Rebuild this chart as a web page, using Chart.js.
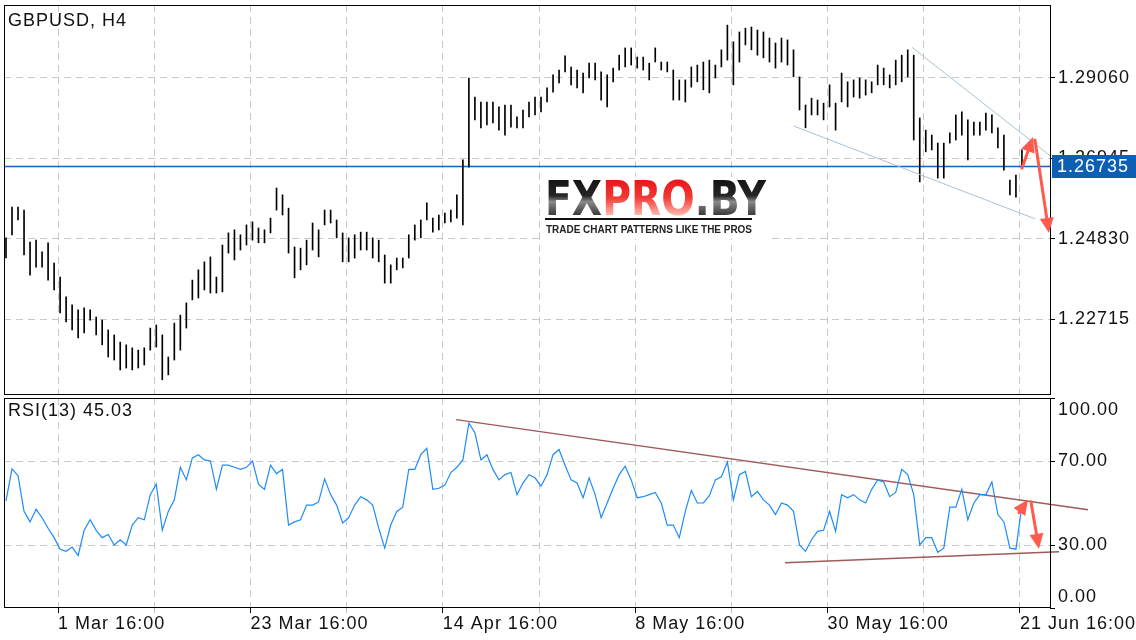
<!DOCTYPE html>
<html>
<head>
<meta charset="utf-8">
<script src="https://cdn.jsdelivr.net/npm/chart.js@4.4.1/dist/chart.umd.min.js"></script>
<style>
  html, body { margin: 0; padding: 0; background: #fff; }
  #wrap { position: relative; width: 1136px; height: 640px; overflow: hidden; }
  #priceBox { position: absolute; left: 0; top: 0; width: 1136px; height: 397px; }
  #rsiBox { position: absolute; left: 0; top: 396px; width: 1136px; height: 244px; }
</style>
</head>
<body>
<div id="wrap">
  <div id="priceBox"><canvas id="priceChart"></canvas></div>
  <div id="rsiBox"><canvas id="rsiChart"></canvas></div>
</div>
<script>
const FONT = "'Liberation Sans', Arial, sans-serif";

// bar index of first sample (0 = "1 Mar 16:00"), one sample every 3 H4 bars
const firstBar = -26;
const barStep = 3;

const highs = [
  1.2486, 1.2567, 1.2567, 1.2559, 1.2475, 1.2480, 1.2449, 1.2473, 1.2420, 1.2383,
  1.2331, 1.2310, 1.2297, 1.2302, 1.2297, 1.2278, 1.2270, 1.2244, 1.2231, 1.2212,
  1.2205, 1.2197, 1.2191, 1.2197, 1.2249, 1.2257, 1.2231, 1.2173, 1.2262, 1.2283,
  1.2315, 1.2375, 1.2402, 1.2423, 1.2436, 1.2383, 1.2467, 1.2499, 1.2507, 1.2494,
  1.2520, 1.2528, 1.2512, 1.2507, 1.2538, 1.2617, 1.2599, 1.2564, 1.2462, 1.2459,
  1.2480, 1.2525, 1.2507, 1.2559, 1.2559, 1.2533, 1.2499, 1.2486, 1.2494, 1.2501,
  1.2501, 1.2486, 1.2480, 1.2441, 1.2415, 1.2433, 1.2433, 1.2494, 1.2520, 1.2533,
  1.2578, 1.2538, 1.2546, 1.2551, 1.2559, 1.2599, 1.2691, 1.2906, 1.2856, 1.2843,
  1.2843, 1.2843, 1.2830, 1.2835, 1.2835, 1.2804, 1.2822, 1.2843, 1.2856, 1.2856,
  1.2880, 1.2914, 1.2927, 1.2964, 1.2935, 1.2927, 1.2919, 1.2945, 1.2945, 1.2922,
  1.2914, 1.2932, 1.2966, 1.2985, 1.2985, 1.2961, 1.2961, 1.2945, 1.2985, 1.2948,
  1.2948, 1.2927, 1.2901, 1.2901, 1.2935, 1.2940, 1.2948, 1.2953, 1.2940, 1.2980,
  1.3045, 1.3001, 1.3027, 1.3037, 1.3040, 1.3032, 1.3027, 1.3011, 1.2998, 1.3011,
  1.3006, 1.2980, 1.2909, 1.2835, 1.2853, 1.2848, 1.2840, 1.2888, 1.2840, 1.2919,
  1.2896, 1.2901, 1.2906, 1.2901, 1.2896, 1.2940, 1.2932, 1.2914, 1.2953, 1.2966,
  1.2980, 1.2966, 1.2801, 1.2769, 1.2756, 1.2735, 1.2735, 1.2762, 1.2809, 1.2817,
  1.2796, 1.2790, 1.2790, 1.2814, 1.2809, 1.2775, 1.2756, 1.2638, 1.2651, 1.2717
];

const lows = [
  1.2433, 1.2494, 1.2533, 1.2441, 1.2388, 1.2409, 1.2409, 1.2375, 1.2349, 1.2289,
  1.2265, 1.2244, 1.2223, 1.2236, 1.2270, 1.2231, 1.2205, 1.2173, 1.2165, 1.2139,
  1.2144, 1.2139, 1.2144, 1.2152, 1.2191, 1.2199, 1.2113, 1.2126, 1.2165, 1.2191,
  1.2249, 1.2323, 1.2328, 1.2349, 1.2341, 1.2341, 1.2344, 1.2446, 1.2428, 1.2454,
  1.2467, 1.2480, 1.2473, 1.2473, 1.2499, 1.2559, 1.2546, 1.2446, 1.2381, 1.2402,
  1.2415, 1.2454, 1.2436, 1.2520, 1.2525, 1.2486, 1.2423, 1.2423, 1.2433, 1.2454,
  1.2454, 1.2433, 1.2423, 1.2367, 1.2367, 1.2402, 1.2407, 1.2433, 1.2480, 1.2486,
  1.2533, 1.2501, 1.2507, 1.2525, 1.2528, 1.2538, 1.2520, 1.2672, 1.2796, 1.2775,
  1.2783, 1.2788, 1.2769, 1.2756, 1.2777, 1.2775, 1.2775, 1.2804, 1.2809, 1.2817,
  1.2843, 1.2869, 1.2893, 1.2922, 1.2888, 1.2880, 1.2867, 1.2906, 1.2901, 1.2848,
  1.2830, 1.2896, 1.2927, 1.2935, 1.2940, 1.2932, 1.2927, 1.2901, 1.2948, 1.2927,
  1.2922, 1.2848, 1.2848, 1.2843, 1.2882, 1.2896, 1.2875, 1.2867, 1.2906, 1.2935,
  1.2953, 1.2888, 1.2948, 1.2993, 1.2980, 1.2966, 1.2959, 1.2948, 1.2932, 1.2948,
  1.2940, 1.2909, 1.2822, 1.2775, 1.2809, 1.2809, 1.2796, 1.2830, 1.2769, 1.2843,
  1.2830, 1.2856, 1.2853, 1.2861, 1.2867, 1.2888, 1.2888, 1.2880, 1.2888, 1.2896,
  1.2909, 1.2743, 1.2633, 1.2712, 1.2717, 1.2643, 1.2643, 1.2735, 1.2743, 1.2756,
  1.2691, 1.2756, 1.2756, 1.2769, 1.2762, 1.2722, 1.2664, 1.2599, 1.2593, 1.2672
];

const rsi = [
  51, 66.3, 63, 46, 41, 47, 43, 38, 33.5, 28,
  27, 29, 25, 37, 42, 37, 33.5, 35, 30, 32.5,
  30, 39.5, 43, 42, 54, 59, 37, 46, 51.5, 67,
  61, 71.5, 73, 70.5, 70, 56.5, 68, 68, 67, 66,
  67, 70, 59, 56.5, 68, 64, 66, 39.5, 41, 42,
  49, 49, 50.5, 61.5, 54, 49, 40.5, 43, 49, 53,
  51.5, 49, 38, 28.5, 39.5, 46, 48, 66, 66, 73,
  76, 56.5, 57, 58.5, 64.5, 67, 70.5, 88, 83.5, 70.5,
  73, 66, 61, 63.5, 64.5, 54, 59.5, 63.5, 62, 58,
  63.5, 73, 75.5, 68, 61, 59.5, 52.5, 62, 54, 43,
  50, 57, 63.5, 67.5, 61, 52.5, 53, 54, 55, 50,
  39.5, 39.5, 33.5, 46, 56, 50, 50, 53.5, 61, 62.5,
  69.5, 51.5, 63.5, 65, 53, 55.5, 51.5, 49, 44.5, 50,
  49, 46, 30, 27, 32.5, 36.5, 37, 46, 36.5, 54,
  52.5, 54, 51.5, 50, 56.5, 61, 60, 53, 55, 66,
  63.5, 54, 30, 33.5, 33.5, 26.5, 28.5, 48, 48, 56.5,
  42, 50, 54, 54, 60, 44.5, 41, 28.5, 28, 49
];

const xTickLabels = ["1 Mar 16:00", "23 Mar 16:00", "14 Apr 16:00", "8 May 16:00", "30 May 16:00", "21 Jun 16:00"];
const priceTicks = [1.22715, 1.24830, 1.26945, 1.29060];
const rsiTicks = [0, 30, 70, 100];
const lastPrice = 1.26735;
const priceTitle = "GBPUSD, H4";
const rsiTitle = "RSI(13) 45.03";

// drawn lines: [bar, value] end points
const channelUpper = [[426, 1.2987], [496, 1.2698]];
const channelLower = [[367, 1.2780], [487.5, 1.2536]];
const priceArrows = [[481, 1.2669, 486.5, 1.2751], [487.5, 1.2743, 494.5, 1.2499]];
const rsiUpper = [[198.6, 89.7], [514, 46.8]];
const rsiLower = [[362.8, 21.6], [499.5, 26.8]];
const rsiArrows = [[479.5, 45.4, 484, 51.6], [485.5, 50.6, 489.5, 28.2]];

const xMin = -27, xMax = 495, gridStep = 48, labelStep = 96;
const barX = highs.map((_, i) => firstBar + i * barStep);
const toPts = arr => arr.map(p => ({ x: p[0], y: p[1] }));

function xScale(showLabels) {
  return {
    type: 'linear', min: xMin, max: xMax, offset: false,
    afterBuildTicks: s => {
      const t = [];
      for (let v = 0; v <= labelStep * (xTickLabels.length - 1); v += gridStep) t.push({ value: v });
      s.ticks = t;
    },
    ticks: {
      display: showLabels, autoSkip: false, maxRotation: 0, align: 'start', padding: 0,
      color: '#111', font: { family: FONT, size: 18 },
      callback: v => (v % labelStep === 0 ? xTickLabels[v / labelStep] : '')
    },
    grid: {
      offset: false, color: '#c8c8c8', drawTicks: showLabels, tickLength: 5,
      tickColor: c => (c.tick && c.tick.value % labelStep === 0 ? '#000' : '#bbb')
    },
    border: { display: false, dash: [7, 5] },
    afterFit: s => { s.height = showLabels ? 32 : 0; s.paddingLeft = 0; s.paddingRight = 0; }
  };
}

function drawArrow(ctx, x1, y1, x2, y2) {
  const a = Math.atan2(y2 - y1, x2 - x1);
  const hl = 15, hw = 7;
  const bx = x2 - hl * Math.cos(a), by = y2 - hl * Math.sin(a);
  ctx.beginPath(); ctx.moveTo(x1, y1); ctx.lineTo(bx, by); ctx.stroke();
  ctx.beginPath(); ctx.moveTo(x2, y2);
  ctx.lineTo(bx + hw * Math.sin(a), by - hw * Math.cos(a));
  ctx.lineTo(bx - hw * Math.sin(a), by + hw * Math.cos(a));
  ctx.closePath(); ctx.fill();
}

function arrowsPlugin(list, yId) {
  return {
    id: 'arrows',
    afterDraw(chart) {
      const { ctx } = chart, xs = chart.scales.x, ys = chart.scales[yId];
      ctx.save();
      ctx.strokeStyle = '#ff5a4e'; ctx.fillStyle = '#ff5a4e'; ctx.lineWidth = 3; ctx.lineCap = 'round';
      list.forEach(a => drawArrow(ctx, xs.getPixelForValue(a[0]), ys.getPixelForValue(a[1]),
        xs.getPixelForValue(a[2]), ys.getPixelForValue(a[3])));
      ctx.restore();
    }
  };
}

function framePlugin(title, titleY) {
  return {
    id: 'frame',
    beforeDraw(chart) { chart.ctx.letterSpacing = '1px'; },
    afterDraw(chart) {
      const { ctx, chartArea: a } = chart;
      ctx.save();
      ctx.strokeStyle = '#000'; ctx.lineWidth = 1;
      ctx.strokeRect(Math.round(a.left) + 0.5, Math.round(a.top) + 0.5,
        Math.round(a.right - a.left), Math.round(a.bottom - a.top) - 1);
      ctx.fillStyle = '#111';
      ctx.font = `18px ${FONT}`;
      ctx.letterSpacing = '1px';
      ctx.textBaseline = 'alphabetic'; ctx.textAlign = 'left';
      ctx.fillText(title, 8, titleY);
      ctx.restore();
    }
  };
}

const logoPlugin = {
  id: 'logo',
  beforeDatasetsDraw(chart) {
    const ctx = chart.ctx;
    ctx.save();
    ctx.letterSpacing = '0px';
    ctx.fillStyle = '#fff';
    ctx.fillRect(542, 177, 227, 62);
    ctx.font = `bold 48px 'DejaVu Sans', ${FONT}`;
    ctx.textBaseline = 'alphabetic'; ctx.textAlign = 'left';
    const dark = ctx.createLinearGradient(0, -35, 0, 0);
    dark.addColorStop(0, '#151515'); dark.addColorStop(0.45, '#262626');
    dark.addColorStop(0.62, '#8a8a8a'); dark.addColorStop(1, '#3a3a3a');
    const red = ctx.createLinearGradient(0, -35, 0, 0);
    red.addColorStop(0, '#e8161b'); red.addColorStop(0.5, '#f23a34'); red.addColorStop(1, '#ffb8ac');
    const parts = [['FX', dark], ['PRO', red], ['.BY', dark]];
    const total = parts.reduce((s, p) => s + ctx.measureText(p[0]).width, 0);
    ctx.translate(545, 215);
    ctx.scale(221 / total, 1);
    let x = 0;
    parts.forEach(p => { ctx.fillStyle = p[1]; ctx.fillText(p[0], x, 0); x += ctx.measureText(p[0]).width; });
    ctx.setTransform(1, 0, 0, 1, 0, 0);
    ctx.fillStyle = '#111';
    ctx.fillRect(545, 218, 207, 2);
    ctx.font = `bold 11px ${FONT}`;
    ctx.fillStyle = '#222';
    ctx.fillText('TRADE CHART PATTERNS LIKE THE PROS', 546, 233, 206);
    ctx.restore();
  }
};

const priceBoxPlugin = {
  id: 'priceBox',
  afterDraw(chart) {
    const ctx = chart.ctx, y = chart.scales.y.getPixelForValue(lastPrice);
    ctx.save();
    ctx.fillStyle = '#0d5fb3';
    ctx.fillRect(1052, Math.round(y) - 11, 84, 23);
    ctx.fillStyle = '#fff';
    ctx.font = `18px ${FONT}`;
    ctx.letterSpacing = '1px';
    ctx.textBaseline = 'middle'; ctx.textAlign = 'left';
    ctx.fillText(lastPrice.toFixed(5), 1057, Math.round(y) + 1);
    ctx.restore();
  }
};

const rsiLabelsPlugin = {
  id: 'rsiLabels',
  afterDraw(chart) {
    const ctx = chart.ctx, s = chart.scales.y, a = chart.chartArea;
    ctx.save();
    ctx.fillStyle = '#111';
    ctx.font = `18px ${FONT}`;
    ctx.letterSpacing = '1px';
    ctx.textBaseline = 'middle'; ctx.textAlign = 'left';
    rsiTicks.forEach(v => {
      let y = s.getPixelForValue(v);
      if (v === 100) y = a.top + 12;
      if (v === 0) y = a.bottom - 11;
      ctx.fillText(v.toFixed(2), 1058, y);
    });
    ctx.restore();
  }
};

const base = {
  responsive: true, maintainAspectRatio: false, animation: false,
  plugins: { legend: { display: false }, tooltip: { enabled: false } }
};

new Chart(document.getElementById('priceChart'), {
  type: 'bar',
  data: {
    datasets: [
      { type: 'line', data: toPts(channelUpper), borderColor: '#a9c2d6', borderWidth: 1, pointRadius: 0 },
      { type: 'line', data: toPts(channelLower), borderColor: '#a9c2d6', borderWidth: 1, pointRadius: 0 },
      { type: 'bar', data: barX.map((x, i) => ({ x, y: [lows[i], highs[i]] })),
        backgroundColor: '#000', barThickness: 1 },
      { type: 'line', data: [{ x: xMin, y: lastPrice }, { x: xMax, y: lastPrice }],
        borderColor: '#1562b8', borderWidth: 1.3, pointRadius: 0 }
    ]
  },
  options: {
    ...base,
    layout: { padding: { top: 5, left: 4, right: 0, bottom: 2 } },
    scales: {
      x: xScale(false),
      y: {
        position: 'right', min: 1.20731, max: 1.30978,
        afterBuildTicks: s => { s.ticks = priceTicks.map(v => ({ value: v })); },
        ticks: { color: '#111', padding: 3, font: { family: FONT, size: 18 }, callback: v => v.toFixed(5) },
        grid: { color: '#c8c8c8', tickLength: 5, tickColor: '#000' },
        border: { display: false, dash: [7, 5] },
        afterFit: s => { s.width = 86; s.paddingTop = 0; s.paddingBottom = 0; }
      }
    }
  },
  plugins: [framePlugin(priceTitle, 26), logoPlugin, arrowsPlugin(priceArrows, 'y'), priceBoxPlugin]
});

new Chart(document.getElementById('rsiChart'), {
  type: 'line',
  data: {
    datasets: [
      { data: barX.map((x, i) => ({ x, y: rsi[i] })), borderColor: '#1e8cf5', borderWidth: 1.2, pointRadius: 0 },
      { data: toPts(rsiUpper), borderColor: '#a05a5a', borderWidth: 1.5, pointRadius: 0, clip: false },
      { data: toPts(rsiLower), borderColor: '#a05a5a', borderWidth: 1.5, pointRadius: 0, clip: false }
    ]
  },
  options: {
    ...base,
    layout: { padding: { top: 2, left: 4, right: 0, bottom: 0 } },
    scales: {
      x: xScale(true),
      y: {
        position: 'right', min: 0, max: 100,
        afterBuildTicks: s => { s.ticks = rsiTicks.map(v => ({ value: v })); },
        ticks: { display: false },
        grid: {
          color: c => (c.tick && (c.tick.value === 30 || c.tick.value === 70) ? '#c8c8c8' : 'rgba(0,0,0,0)'),
          tickLength: 5, tickColor: '#000'
        },
        border: { display: false, dash: [7, 5] },
        afterFit: s => { s.width = 86; s.paddingTop = 0; s.paddingBottom = 0; }
      }
    }
  },
  plugins: [framePlugin(rsiTitle, 20), arrowsPlugin(rsiArrows, 'y'), rsiLabelsPlugin]
});
</script>
</body>
</html>
